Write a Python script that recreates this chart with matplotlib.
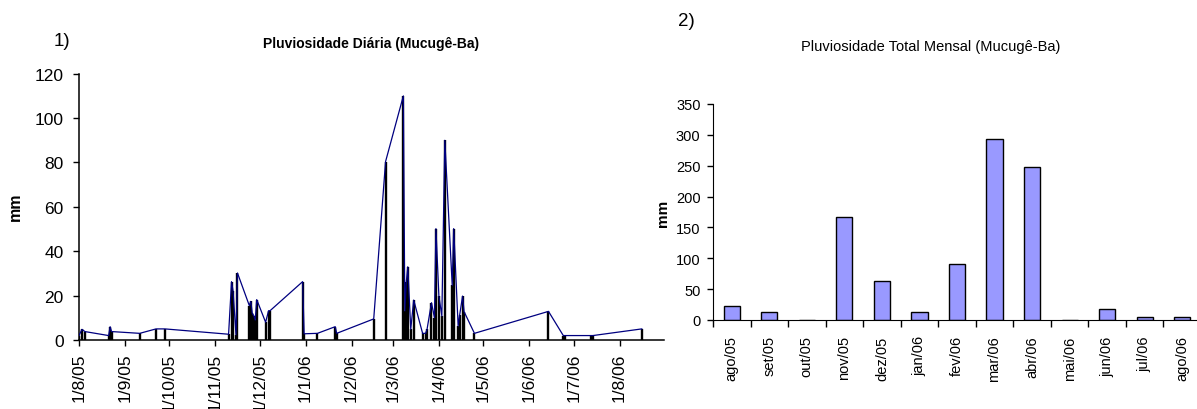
import matplotlib
matplotlib.use("Agg")
import matplotlib.pyplot as plt
import matplotlib.dates as mdates
from matplotlib import font_manager
import pandas as pd

# daily rain (only rainy days are recorded)
dias = ["2005-08-01", "2005-08-03", "2005-08-05", "2005-08-21", "2005-08-22", "2005-08-23",
        "2005-09-11", "2005-09-22", "2005-09-28",
        "2005-11-10", "2005-11-12", "2005-11-13", "2005-11-15", "2005-11-16", "2005-11-24",
        "2005-11-25", "2005-11-26", "2005-11-27", "2005-11-28", "2005-11-29",
        "2005-12-05", "2005-12-07", "2005-12-08", "2005-12-30", "2005-12-31",
        "2006-01-09", "2006-01-21", "2006-01-22",
        "2006-02-16", "2006-02-24",
        "2006-03-08", "2006-03-09", "2006-03-10", "2006-03-11", "2006-03-13", "2006-03-15",
        "2006-03-21", "2006-03-23", "2006-03-24", "2006-03-27", "2006-03-29", "2006-03-30",
        "2006-04-01", "2006-04-03", "2006-04-05", "2006-04-10", "2006-04-11", "2006-04-14",
        "2006-04-15", "2006-04-17", "2006-04-18", "2006-04-25",
        "2006-06-14", "2006-06-24", "2006-06-25",
        "2006-07-13", "2006-07-14",
        "2006-08-16"]
chuva = [2.0, 4.8, 3.8, 2.0, 6.0, 3.8,
         3.0, 5.0, 5.0,
         2.6, 26.3, 22.2, 2.3, 30.2, 15.5,
         17.4, 12.0, 11.0, 9.0, 18.2,
         8.0, 13.2, 13.2, 26.3, 2.8,
         3.0, 6.0, 3.0,
         9.5, 80.4,
         110.0, 13.1, 26.1, 33.0, 4.8, 18.0,
         3.0, 3.0, 4.8, 16.8, 10.0, 50.2,
         19.8, 10.8, 90.0, 24.6, 50.2, 6.3,
         11.1, 19.8, 12.8, 3.0,
         12.9, 2.0, 2.0,
         2.0, 2.0,
         5.0]

# monthly totals
meses = ["ago/05", "set/05", "out/05", "nov/05", "dez/05", "jan/06", "fev/06",
         "mar/06", "abr/06", "mai/06", "jun/06", "jul/06", "ago/06"]
total = [22.7, 13, 0, 167.7, 62.7, 13, 90.3, 292.6, 247.7, 0, 17.3, 5.4, 5.4]

nomes = {f.name for f in font_manager.fontManager.ttflist}
arial = "Liberation Sans"
if "Liberation Sans Narrow" in nomes:
    narrow, nsize = "Liberation Sans Narrow", 12
else:
    narrow, nsize = "Liberation Sans", 10.5
plt.rcParams["font.family"] = arial

W, H = 1197, 410
fig = plt.figure(figsize=(W / 100, H / 100), dpi=100)

# ---- 1) daily
ax1 = fig.add_axes([79 / W, 1 - 341 / H, (664 - 79) / W, (341 - 74.7) / H])
d = pd.to_datetime(dias)
ax1.vlines(d, 0, chuva, color="black", lw=1.7, zorder=2)
ax1.plot(d, chuva, color="#000080", lw=0.9, zorder=3)
ax1.set_xlim(pd.Timestamp("2005-08-01"), pd.Timestamp("2006-08-31"))
ax1.set_ylim(0, 120)
ax1.set_yticks(range(0, 121, 20))
ticks = pd.date_range("2005-08-01", "2006-08-01", freq="MS")
ax1.set_xticks(ticks)
ax1.set_xticklabels([f"{t.day}/{t.month}/{t:%y}" for t in ticks], rotation=90,
                    fontsize=12.5)
ax1.tick_params(axis="y", labelsize=12.5, length=4, width=1, pad=7)
ax1.tick_params(axis="x", length=4, width=1, pad=5)
for s in ["top", "right"]:
    ax1.spines[s].set_visible(False)
for s in ["left", "bottom"]:
    ax1.spines[s].set_linewidth(1.1)

fig.text(62 / W, 1 - 42 / H, "1)", fontsize=13.5, ha="center", va="center")
fig.text(371 / W, 1 - 44 / H, "Pluviosidade Diária (Mucugê-Ba)", fontsize=10,
         fontweight="bold", ha="center", va="center")
fig.text(15 / W, 1 - 207 / H, "mm", fontsize=11.5, fontweight="bold", rotation=90,
         ha="center", va="center")

# ---- 2) monthly
ax2 = fig.add_axes([713 / W, 1 - 321 / H, 488 / W, (321 - 105) / H])
pos = list(range(len(meses)))
ax2.bar(pos, total, width=0.43, color="#9999FF", edgecolor="black", linewidth=1,
        zorder=2)
ax2.set_xlim(-0.5, len(meses) - 0.5)
ax2.set_ylim(0, 350)
ax2.set_yticks(range(0, 351, 50))
ax2.set_yticklabels([str(v) for v in range(0, 351, 50)], fontfamily=narrow,
                    fontsize=nsize)
ax2.set_xticks(pos)
ax2.set_xticklabels(meses, rotation=90, fontsize=10.5)
ax2.set_xticks([p - 0.5 for p in pos], minor=True)
ax2.tick_params(axis="x", which="major", length=0, pad=11)
ax2.tick_params(axis="x", which="minor", length=5, width=1)
ax2.tick_params(axis="y", length=4, width=1, pad=5)
for s in ["top", "right"]:
    ax2.spines[s].set_visible(False)

fig.text(686 / W, 1 - 22 / H, "2)", fontsize=13.5, ha="center", va="center")
fig.text(931 / W, 1 - 47 / H, "Pluviosidade Total Mensal (Mucugê-Ba)",
         fontfamily=narrow, fontsize=nsize, ha="center", va="center")
fig.text(663 / W, 1 - 213 / H, "mm", fontsize=11, fontweight="bold", rotation=90,
         ha="center", va="center")

fig.savefig("out.png", dpi=100)
